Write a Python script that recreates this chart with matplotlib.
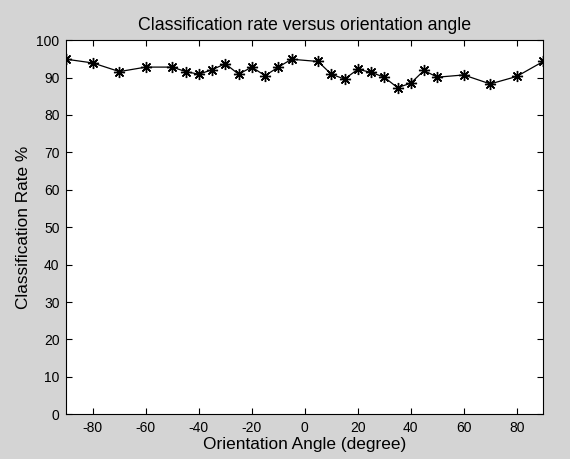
import matplotlib
matplotlib.use("Agg")
from matplotlib import pyplot as plt

# data
angles = [-90, -80, -70, -60, -50, -45, -40, -35, -30, -25, -20, -15, -10, -5,
          5, 10, 15, 20, 25, 30, 35, 40, 45, 50, 60, 70, 80, 90]
rates = [94.9, 93.9, 91.6, 92.8, 92.8, 91.6, 90.9, 92.1, 93.7, 90.9, 92.8, 90.5, 92.8, 94.9,
         94.3, 90.9, 89.6, 92.2, 91.4, 90.1, 87.3, 88.5, 91.9, 90.1, 90.7, 88.3, 90.3, 94.3]
xticks = [-80, -60, -40, -20, 0, 20, 40, 60, 80]
yticks = [0, 10, 20, 30, 40, 50, 60, 70, 80, 90, 100]

plt.rcParams['font.family'] = ['Liberation Sans', 'DejaVu Sans']
plt.rcParams['axes.unicode_minus'] = False

fig = plt.figure(figsize=(5.70, 4.59), dpi=100, facecolor='#d4d4d4')
ax = fig.add_axes([0.1165, 0.0975, 0.8365, 0.815])

# matlab style asterisk marker (+ and x combined)
ax.plot(angles, rates, color='black', linewidth=0.9, marker=(8, 2, 0),
        markersize=8, markeredgewidth=1.0)

ax.set_xlim(-90, 90)
ax.set_ylim(0, 100)
ax.set_xticks(xticks)
ax.set_yticks(yticks)
ax.tick_params(direction='in', top=True, right=True, length=4, width=0.8,
               labelsize=10, pad=5, colors='black')
for s in ax.spines.values():
    s.set_linewidth(0.8)

ax.set_title('Classification rate versus orientation angle', fontsize=12.8, pad=7)
ax.set_xlabel('Orientation Angle (degree)', fontsize=12.4, labelpad=1)
ax.set_ylabel('Classification Rate %', fontsize=12.4, labelpad=4)

fig.savefig('out.png', dpi=100, facecolor=fig.get_facecolor())
